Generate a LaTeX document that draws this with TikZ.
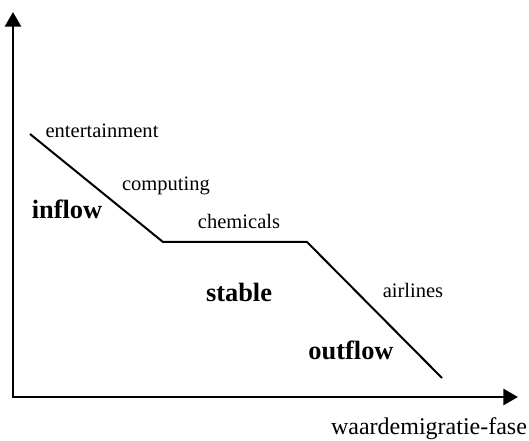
\documentclass[tikz,border=0pt]{standalone}
\usepackage{fontspec}
\setmainfont{Liberation Serif}
\usetikzlibrary{arrows.meta}

\begin{document}
\begin{tikzpicture}[x=0.75pt,y=-0.75pt,
  sector/.style={font=\fontsize{15.4}{18}\selectfont},
  phase/.style={font=\fontsize{19.8}{23}\selectfont\bfseries},
  axis/.style={line width=2.2pt,{Triangle[length=11pt,width=12pt]}-{Triangle[length=11pt,width=12pt]}}]
\useasboundingbox (0,0) rectangle (529,441);
% axes
\coordinate (Y) at (13,12);
\coordinate (O) at (13,397);
\coordinate (X) at (518,397);
\draw[axis] (Y) -- (O) -- (X);
% migration curve
\coordinate (start) at (30,134);
\coordinate (knee1) at (163,242);
\coordinate (knee2) at (307,242);
\coordinate (end) at (442,378);
\draw[line width=1.5pt] (start) -- (knee1) -- (knee2) -- (end);
% sectors
\node[sector] (ent) at (102,131) {entertainment};
\node[sector] (comp) at (166,186) {computing};
\node[sector] (chem) at (239,221) {chemicals};
\node[sector] (air) at (413,290) {airlines};
% phases
\node[phase] (in) at (67,209) {inflow};
\node[phase] (stab) at (239,292) {stable};
\node[phase] (out) at (351,350) {outflow};
\node[font=\fontsize{18}{21}\selectfont] (xlab) at (429,429) {waardemigratie-fase};
\end{tikzpicture}
\end{document}
